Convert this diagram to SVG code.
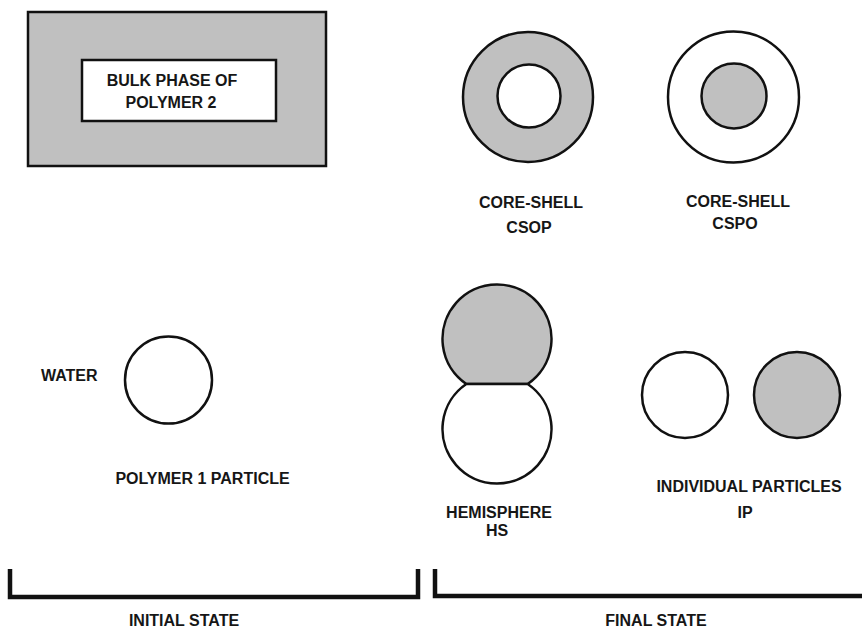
<svg xmlns="http://www.w3.org/2000/svg" width="862" height="628" viewBox="0 0 862 628">
<style>
  .t { font-family: "Liberation Sans", Arial, sans-serif; font-weight: bold; font-size: 16px; fill: #161616; text-anchor: middle; }
  .tl { font-family: "Liberation Sans", Arial, sans-serif; font-weight: bold; font-size: 16px; fill: #161616; }
  .g { fill: #c0c0c0; stroke: #111; stroke-width: 2.5; }
  .w { fill: #ffffff; stroke: #111; stroke-width: 2.5; }
  .br { fill: none; stroke: #111; stroke-width: 4.5; stroke-linejoin: miter; }
</style>
<rect width="862" height="628" fill="#ffffff"/>

<g id="bulk-phase">
  <rect x="28" y="12" width="298" height="154" class="g" stroke-width="2"/>
  <rect x="82" y="60" width="194" height="61" class="w" stroke-width="3"/>
  <text class="t" x="172" y="86">BULK PHASE OF</text>
  <text class="t" x="171" y="108">POLYMER 2</text>
</g>

<g id="core-shell-csop">
  <circle cx="528" cy="97" r="65" class="g"/>
  <circle cx="529" cy="96" r="31.5" class="w"/>
  <text class="t" x="531" y="208">CORE-SHELL</text>
  <text class="t" x="529" y="233">CSOP</text>
</g>

<g id="core-shell-cspo">
  <circle cx="733.5" cy="97" r="65.5" class="w"/>
  <circle cx="734" cy="96" r="32.5" class="g"/>
  <text class="t" x="738" y="207">CORE-SHELL</text>
  <text class="t" x="735" y="229">CSPO</text>
</g>

<g id="polymer1-particle">
  <text class="tl" x="41" y="381">WATER</text>
  <circle cx="168.5" cy="380" r="43.5" class="w"/>
  <text class="t" x="202.5" y="484">POLYMER 1 PARTICLE</text>
</g>

<g id="hemisphere">
  <path d="M466.3,384 A54.5,54.5 0 1 1 527.7,384 Z" class="g"/>
  <path d="M466.3,384 A54.5,54.5 0 1 0 527.7,384 Z" class="w"/>
  <text class="t" x="499" y="518">HEMISPHERE</text>
  <text class="t" x="497" y="536">HS</text>
</g>

<g id="individual-particles">
  <circle cx="685" cy="395" r="43" class="w"/>
  <circle cx="797" cy="395" r="43" class="g"/>
  <text class="t" x="749" y="492">INDIVIDUAL PARTICLES</text>
  <text class="t" x="745" y="518">IP</text>
</g>

<g id="connectors">
  <path d="M10,569 V597 H418 V569" class="br"/>
  <path d="M435,569 V596 H862" class="br"/>
</g>

<g id="state-labels">
  <text class="t" x="184" y="626">INITIAL STATE</text>
  <text class="t" x="656" y="626">FINAL STATE</text>
</g>
</svg>
